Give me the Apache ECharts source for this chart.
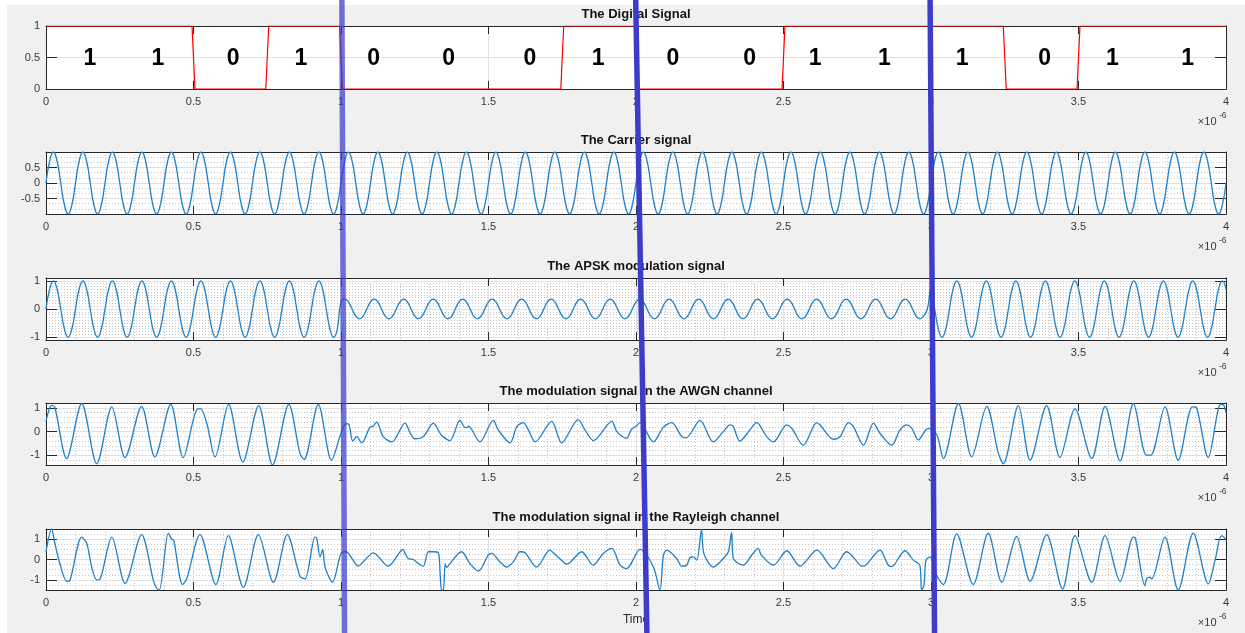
<!DOCTYPE html>
<html>
<head>
<meta charset="utf-8">
<title>APSK modulation</title>
<script src="https://cdn.jsdelivr.net/npm/echarts@6/dist/echarts.min.js"></script>
<style>
  html, body { margin: 0; padding: 0; background: #ffffff; }
  #chart {
    width: 1245px; height: 633px;
    background: linear-gradient(#f0f0f0, #f0f0f0) 7px 5px / 1238px 628px no-repeat, #ffffff;
  }
</style>
</head>
<body>
<div id="chart"></div>
<script>
// Time is expressed in microseconds; the axes carry the x10^-6 factor.

// ---------- data ----------
const bits = [1, 1, 0, 1, 0, 0, 0, 1, 0, 0, 1, 1, 1, 0, 1, 1];
const bitDuration = 0.25;
const bitLabelX = [0.149, 0.379, 0.634, 0.864, 1.111, 1.365, 1.640, 1.872,
                   2.125, 2.385, 2.607, 2.842, 3.106, 3.385, 3.615, 3.870];

// carrier and clean APSK signal, one value every sampleStep microseconds
const sampleStep = 0.0125;
const carrier = [
  0,.71,1,.71,0,-.71,-1,-.71, 0,.71,1,.71,0,-.71,-1,-.71, 0,.71,1,.71,0,-.71,-1,-.71, 0,.71,1,.71,0,-.71,-1,-.71,
  0,.71,1,.71,0,-.71,-1,-.71, 0,.71,1,.71,0,-.71,-1,-.71, 0,.71,1,.71,0,-.71,-1,-.71, 0,.71,1,.71,0,-.71,-1,-.71,
  0,.71,1,.71,0,-.71,-1,-.71, 0,.71,1,.71,0,-.71,-1,-.71, 0,.71,1,.71,0,-.71,-1,-.71, 0,.71,1,.71,0,-.71,-1,-.71,
  0,.71,1,.71,0,-.71,-1,-.71, 0,.71,1,.71,0,-.71,-1,-.71, 0,.71,1,.71,0,-.71,-1,-.71, 0,.71,1,.71,0,-.71,-1,-.71,
  0,.71,1,.71,0,-.71,-1,-.71, 0,.71,1,.71,0,-.71,-1,-.71, 0,.71,1,.71,0,-.71,-1,-.71, 0,.71,1,.71,0,-.71,-1,-.71,
  0,.71,1,.71,0,-.71,-1,-.71, 0,.71,1,.71,0,-.71,-1,-.71, 0,.71,1,.71,0,-.71,-1,-.71, 0,.71,1,.71,0,-.71,-1,-.71,
  0,.71,1,.71,0,-.71,-1,-.71, 0,.71,1,.71,0,-.71,-1,-.71, 0,.71,1,.71,0,-.71,-1,-.71, 0,.71,1,.71,0,-.71,-1,-.71,
  0,.71,1,.71,0,-.71,-1,-.71, 0,.71,1,.71,0,-.71,-1,-.71, 0,.71,1,.71,0,-.71,-1,-.71, 0,.71,1,.71,0,-.71,-1,-.71,
  0,.71,1,.71,0,-.71,-1,-.71, 0,.71,1,.71,0,-.71,-1,-.71, 0,.71,1,.71,0,-.71,-1,-.71, 0,.71,1,.71,0,-.71,-1,-.71,
  0,.71,1,.71,0,-.71,-1,-.71, 0,.71,1,.71,0,-.71,-1,-.71, 0,.71,1,.71,0,-.71,-1,-.71, 0,.71,1,.71,0,-.71,-1,-.71,
  0
];
const apsk = [
  // symbol 1 (0 - 1 us): full amplitude
  0,.71,1,.71,0,-.71,-1,-.71, 0,.71,1,.71,0,-.71,-1,-.71,
  0,.71,1,.71,0,-.71,-1,-.71, 0,.71,1,.71,0,-.71,-1,-.71,
  0,.71,1,.71,0,-.71,-1,-.71, 0,.71,1,.71,0,-.71,-1,-.71,
  0,.71,1,.71,0,-.71,-1,-.71, 0,.71,1,.71,0,-.71,-1,-.71,
  0,.71,1,.71,0,-.71,-1,-.71, 0,.71,1,.71,0,-.71,-1,-.71,
  // symbols 2 and 3 (1 - 3 us): inner ring
  .25,.35,.25,0,-.25,-.35,-.25,0, .25,.35,.25,0,-.25,-.35,-.25,0,
  .25,.35,.25,0,-.25,-.35,-.25,0, .25,.35,.25,0,-.25,-.35,-.25,0,
  .25,.35,.25,0,-.25,-.35,-.25,0, .25,.35,.25,0,-.25,-.35,-.25,0,
  .25,.35,.25,0,-.25,-.35,-.25,0, .25,.35,.25,0,-.25,-.35,-.25,0,
  .25,.35,.25,0,-.25,-.35,-.25,0, .25,.35,.25,0,-.25,-.35,-.25,0,
  .25,.35,.25,0,-.25,-.35,-.25,0, .25,.35,.25,0,-.25,-.35,-.25,0,
  .25,.35,.25,0,-.25,-.35,-.25,0, .25,.35,.25,0,-.25,-.35,-.25,0,
  .25,.35,.25,0,-.25,-.35,-.25,0, .25,.35,.25,0,-.25,-.35,-.25,0,
  .25,.35,.25,0,-.25,-.35,-.25,0, .25,.35,.25,0,-.25,-.35,-.25,0,
  .25,.35,.25,0,-.25,-.35,-.25,0, .25,.35,.25,0,-.25,-.35,-.25,0,
  // symbol 4 (3 - 4 us): outer ring, shifted phase
  .71,0,-.71,-1,-.71,0,.71,1, .71,0,-.71,-1,-.71,0,.71,1,
  .71,0,-.71,-1,-.71,0,.71,1, .71,0,-.71,-1,-.71,0,.71,1,
  .71,0,-.71,-1,-.71,0,.71,1, .71,0,-.71,-1,-.71,0,.71,1,
  .71,0,-.71,-1,-.71,0,.71,1, .71,0,-.71,-1,-.71,0,.71,1,
  .71,0,-.71,-1,-.71,0,.71,1, .71,0,-.71,-1,-.71,0,.71,1,
  .71
];

// received signals: [time, amplitude]
const awgn = [
  [0,0.43],[0.012,0.98],[0.02,1.1],[0.03,1.02],[0.07,-1.13],[0.121,1.18],[0.172,-1.35],[0.223,1.04],
  [0.268,-1.09],[0.324,1.06],[0.369,-1.06],[0.423,1.14],[0.465,-1.09],[0.513,0.95],[0.524,0.96],[0.545,0.35],
  [0.573,-1.06],[0.619,1.14],[0.667,-1.28],[0.721,1.09],[0.768,-1.4],[0.823,1.14],[0.861,-0.92],[0.875,-1.17],
  [0.923,1.14],[0.968,-1.2],
  [1.0,-0.07],[1.017,0.33],[1.027,0.3],[1.04,-0.4],[1.053,-0.21],[1.07,-0.47],[1.098,0.19],[1.108,0.22],
  [1.121,0.4],[1.143,-0.21],[1.172,-0.43],[1.217,0.36],[1.236,-0.1],[1.25,-0.3],[1.279,-0.21],[1.313,0.36],
  [1.34,-0.14],[1.369,-0.38],[1.403,0.47],[1.418,0.2],[1.427,0.17],[1.432,0.23],[1.471,-0.43],[1.516,0.47],
  [1.533,0.07],[1.573,-0.47],[1.596,0.21],[1.618,0.38],[1.635,0.07],[1.658,-0.43],[1.714,0.43],[1.748,-0.47],
  [1.804,0.5],[1.827,0.07],[1.856,-0.38],[1.918,0.43],[1.935,0],[1.968,-0.28],[1.985,0.1],[2.002,0.24],
  [2.013,0.38],[2.059,-0.43],[2.093,0.19],[2.121,0.38],[2.155,-0.21],[2.17,-0.26],[2.217,0.47],[2.262,-0.43],
  [2.296,0],[2.319,0.28],[2.33,0.21],[2.352,-0.4],[2.386,0.07],[2.409,0.38],[2.443,-0.21],[2.466,-0.43],
  [2.511,0.28],[2.528,0.14],[2.567,-0.57],[2.613,0.38],[2.624,0.28],[2.669,-0.32],[2.692,-0.21],[2.72,0.38],
  [2.737,0.21],[2.771,-0.57],[2.805,0.36],[2.827,-0.07],[2.867,-0.57],[2.895,0.07],[2.918,0.28],[2.935,0.14],
  [2.957,-0.35],[2.982,0.07],[2.992,0.14],
  [3.02,-0.14],[3.042,-1.13],[3.093,1.18],[3.138,-1.06],[3.189,1.06],[3.228,-0.89],[3.245,-1.35],[3.296,1.09],
  [3.336,-1.2],[3.392,1.09],[3.437,-1.09],[3.488,0.95],[3.545,-1.13],[3.59,1.06],[3.641,-1.23],[3.686,1.18],
  [3.73,-0.99],[3.745,-0.99],[3.793,1.04],[3.838,-1.2],[3.886,1.04],[3.9,1.0],[3.94,-1.09],[3.982,1.14],
  [3.993,1.1],[4.0,0.78]
];
const rayleigh = [
  [0,0.38],[0.019,1.5],[0.03,0.8],[0.047,-0.2],[0.07,-1.07],[0.081,-1.03],[0.121,1.1],[0.138,0.8],
  [0.155,-0.37],[0.172,-1.0],[0.183,-0.97],[0.223,1.1],[0.268,-1.17],[0.324,1.22],[0.364,-1.03],[0.375,-1.4],
  [0.384,-1.5],[0.415,1.3],[0.426,1.0],[0.433,0.95],[0.463,-1.23],[0.477,-0.95],[0.522,1.22],[0.576,-1.23],
  [0.618,1.17],[0.669,-1.37],[0.72,1.22],[0.771,-1.12],[0.818,1.22],[0.861,-0.83],[0.878,-0.95],[0.912,1.1],
  [0.918,1.03],[0.929,0.13],[0.938,0.5],[0.946,-0.37],[0.971,-1.12],
  [1.0,0.3],[1.017,0.38],[1.059,-0.33],[1.076,-0.1],[1.11,0.33],[1.16,-0.33],[1.211,0.5],[1.217,0.3],
  [1.228,0.05],[1.245,0],[1.262,-0.2],[1.279,-0.33],[1.296,0.38],[1.313,0.38],[1.33,0.33],[1.336,-0.7],
  [1.341,-1.5],[1.347,-1.5],[1.353,-0.2],[1.358,-0.4],[1.364,-0.3],[1.409,0.38],[1.437,-0.2],[1.466,-0.57],
  [1.499,0.21],[1.511,0.3],[1.539,-0.12],[1.562,-0.37],[1.584,-0.12],[1.607,0.38],[1.624,0.33],[1.663,-0.37],
  [1.708,0.46],[1.72,0.33],[1.754,-0.12],[1.765,-0.23],[1.816,0.38],[1.855,-0.28],[1.889,0.3],[1.918,0.55],
  [1.946,-0.28],[1.968,-0.45],[2.014,0.5],[2.059,-0.37],[2.081,-1.5],[2.093,0.21],[2.104,0.46],[2.138,0.05],
  [2.155,-0.33],[2.172,-0.28],[2.183,0.1],[2.194,0.13],[2.206,-0.03],[2.222,1.47],[2.23,0.3],[2.262,-0.37],
  [2.296,0.05],[2.313,0.38],[2.324,1.33],[2.33,0.05],[2.364,-0.28],[2.392,0.21],[2.414,0.55],[2.425,0.21],
  [2.466,-0.28],[2.511,0.43],[2.556,-0.33],[2.613,0.46],[2.669,-0.45],[2.714,0.38],[2.76,-0.28],[2.771,-0.33],
  [2.81,0.26],[2.827,0.46],[2.833,0.4],[2.855,-0.28],[2.866,-0.35],[2.912,0.43],[2.94,-0.03],[2.962,-0.28],
  [2.968,-1.5],[2.976,-1.28],[2.983,-0.03],[2.997,0.13],
  [3.019,-0.78],[3.042,-1.23],[3.087,1.26],[3.143,-1.23],[3.194,1.3],[3.24,-1.12],[3.29,1.13],[3.336,-1.07],
  [3.392,1.22],[3.446,-1.45],[3.488,1.17],[3.545,-1.12],[3.59,1.17],[3.641,-1.07],[3.686,1.1],[3.692,1.08],
  [3.725,-1.28],[3.731,-0.95],[3.742,-0.87],[3.748,-0.95],[3.793,1.1],[3.838,-1.5],[3.889,1.3],[3.94,-1.2],
  [3.963,-0.03],[3.985,1.17],[4.0,1.0]
];

// symbol boundaries marked by hand-drawn strokes: [time at top, time at bottom]
const boundaryStrokes = [[1.003, 1.012], [1.999, 2.037], [2.997, 3.012]];

// axes
const plotTitles = [
  'The Digital Signal',
  'The Carrier signal',
  'The APSK modulation signal',
  'The modulation signal in the AWGN channel',
  'The modulation signal in the Rayleigh channel'
];
const xRange = [0, 4];
const xTickStep = 0.5;
const xAxisName = 'Time';
const xExponent = ['\u00d710', '-6'];
const yRanges = [[0, 1], [-1, 1], [-1.1, 1.1], [-1.4, 1.2], [-1.5, 1.5]];
const yTickValues = [[0, 0.5, 1], [-0.5, 0, 0.5], [-1, 0, 1], [-1, 0, 1], [-1, 0, 1]];

// ---------- layout and style ----------
const FONT = '"Liberation Sans", Arial, Helvetica, sans-serif';
const AXIS_COLOR = '#262626';
const LABEL_COLOR = '#383838';
const MAJOR_GRID = '#e1e1e1';
const MINOR_GRID = '#c6c6c6';
const PLOT_LEFT = 46, PLOT_RIGHT = 19;
const PLOT_TOP = [26, 152, 278, 403, 529];
const PLOT_H = [63, 62, 62, 62, 61];
const Y_MAJOR_STEP = [0.5, 0.5, null, null, null];
const Y_MINOR_STEP = [null, 1 / 6, 0.1, 0.2, 0.25];
const X_MINOR_STEP = 0.1;
const SIGNAL_BLUE = '#1f80c8';
const STROKE_COLORS = ['rgba(58,58,205,0.72)', '#3c3cc9', '#3d3dca'];
const STROKE_WIDTH = 5.5;

const grids = [], xAxes = [], yAxes = [], series = [], graphics = [];
const mainX = [], mainY = [];

const boxLine = { show: true, onZero: false, lineStyle: { color: AXIS_COLOR, width: 1 } };
const hidden = { show: false };

for (let i = 0; i < 5; i++) {
  grids.push({ left: PLOT_LEFT, right: PLOT_RIGHT, top: PLOT_TOP[i], height: PLOT_H[i],
               show: true, backgroundColor: '#ffffff', borderWidth: 0 });
  const [ymin, ymax] = yRanges[i];
  const ticks = yTickValues[i];

  // bottom x axis: labels, ticks, major grid
  mainX.push(xAxes.length);
  xAxes.push({
    gridIndex: i, type: 'value', min: xRange[0], max: xRange[1], interval: xTickStep,
    position: 'bottom', z: 3,
    axisLine: boxLine,
    axisTick: { show: true, inside: true, length: 8, lineStyle: { color: AXIS_COLOR, width: 1 } },
    axisLabel: { show: true, margin: 7, color: LABEL_COLOR, fontSize: 11, fontFamily: FONT },
    splitLine: { show: true, lineStyle: { color: MAJOR_GRID, width: 1 } },
    name: i === 4 ? xAxisName : '', nameLocation: 'middle', nameGap: 24,
    nameTextStyle: { color: '#262626', fontSize: 12, fontFamily: FONT }
  });
  // top x axis: ticks only
  xAxes.push({
    gridIndex: i, type: 'value', min: xRange[0], max: xRange[1], interval: xTickStep,
    position: 'top', z: 3,
    axisLine: boxLine,
    axisTick: { show: true, inside: true, length: 8, lineStyle: { color: AXIS_COLOR, width: 1 } },
    axisLabel: hidden, splitLine: hidden
  });
  // minor vertical grid
  if (Y_MINOR_STEP[i]) {
    xAxes.push({
      gridIndex: i, type: 'value', min: xRange[0], max: xRange[1], interval: X_MINOR_STEP,
      position: 'top', z: 1,
      axisLine: hidden, axisTick: hidden, axisLabel: hidden,
      splitLine: { show: true, lineStyle: { color: MINOR_GRID, width: 1, type: [1, 2] } }
    });
  }

  // left y axis: labels, ticks, major grid
  const leftY = {
    gridIndex: i, type: 'value', min: ymin, max: ymax, position: 'left', z: 3,
    axisLine: boxLine,
    axisTick: { show: true, inside: true, length: 11, customValues: ticks,
                lineStyle: { color: AXIS_COLOR, width: 1 } },
    axisLabel: { show: true, margin: 6, color: LABEL_COLOR, fontSize: 11, fontFamily: FONT,
                 customValues: ticks },
    splitLine: { show: true, lineStyle: { color: MAJOR_GRID, width: 1 } }
  };
  if (Y_MAJOR_STEP[i]) leftY.interval = Y_MAJOR_STEP[i]; else leftY.splitNumber = 3;
  mainY.push(yAxes.length);
  yAxes.push(leftY);
  // right y axis: ticks only
  const rightY = {
    gridIndex: i, type: 'value', min: ymin, max: ymax, position: 'right', z: 3,
    axisLine: boxLine,
    axisTick: { show: true, inside: true, length: 11, customValues: ticks,
                lineStyle: { color: AXIS_COLOR, width: 1 } },
    axisLabel: hidden, splitLine: hidden
  };
  if (Y_MAJOR_STEP[i]) rightY.interval = Y_MAJOR_STEP[i]; else rightY.splitNumber = 3;
  yAxes.push(rightY);
  // minor horizontal grid
  if (Y_MINOR_STEP[i]) {
    yAxes.push({
      gridIndex: i, type: 'value', min: ymin, max: ymax, interval: Y_MINOR_STEP[i],
      position: 'right', z: 1,
      axisLine: hidden, axisTick: hidden, axisLabel: hidden,
      splitLine: { show: true, lineStyle: { color: MINOR_GRID, width: 1, type: [1, 2] } }
    });
  }

  // x10^-6 exponent under the right end of every x axis
  const base = PLOT_TOP[i] + PLOT_H[i];
  const axisRightX = 1245 - PLOT_RIGHT;
  graphics.push({
    type: 'text', x: axisRightX - 9.5, y: base + 33, silent: true,
    style: { text: xExponent[0], fill: LABEL_COLOR, font: '11px ' + FONT, align: 'right', verticalAlign: 'middle' }
  });
  graphics.push({
    type: 'text', x: axisRightX + 0.5, y: base + 27, silent: true,
    style: { text: xExponent[1], fill: LABEL_COLOR, font: '8.5px ' + FONT, align: 'right', verticalAlign: 'middle' }
  });
}

// overlay grid spanning the whole figure height for the boundary strokes
grids.push({ left: PLOT_LEFT, right: PLOT_RIGHT, top: 0, bottom: 0, show: false });
const overlayX = xAxes.length;
xAxes.push({ gridIndex: 5, type: 'value', min: xRange[0], max: xRange[1], show: false });
const overlayY = yAxes.length;
yAxes.push({ gridIndex: 5, type: 'value', min: 0, max: 1, show: false });

// ---------- series ----------
const digitalPoints = [];
bits.forEach((b, k) => {
  const t0 = k * bitDuration, t1 = (k + 1) * bitDuration;
  digitalPoints.push([k === 0 ? t0 : t0 + 0.005, b]);
  digitalPoints.push([k === bits.length - 1 ? t1 : t1 - 0.005, b]);
});
const sampled = vals => vals.map((v, k) => [k * sampleStep, v]);

series.push({
  type: 'line', xAxisIndex: mainX[0], yAxisIndex: mainY[0], data: digitalPoints,
  symbol: 'none', lineStyle: { color: '#ff0000', width: 1.2 }, z: 5, silent: true
});
series.push({
  type: 'scatter', xAxisIndex: mainX[0], yAxisIndex: mainY[0],
  data: bitLabelX.map((x, k) => [x, 0.5, bits[k]]),
  symbolSize: 1, itemStyle: { color: 'rgba(0,0,0,0)', opacity: 1 }, z: 6, silent: true,
  label: { show: true, position: 'inside', offset: [0, 1.5], formatter: p => String(p.data[2]),
           fontSize: 23, fontWeight: 'bold', color: '#000000', opacity: 1, fontFamily: FONT,
           textBorderWidth: 0, textBorderColor: 'transparent' }
});
const signalLine = (idx, data, smooth) => ({
  type: 'line', xAxisIndex: mainX[idx], yAxisIndex: mainY[idx], data: data,
  symbol: 'none', smooth: smooth, lineStyle: { color: SIGNAL_BLUE, width: 1.3 }, z: 5, silent: true
});
series.push(signalLine(1, sampled(carrier), 0.5));
series.push(signalLine(2, sampled(apsk), 0.5));
series.push(signalLine(3, awgn, 0.3));
series.push(signalLine(4, rayleigh, 0.3));

boundaryStrokes.forEach((s, k) => {
  series.push({
    type: 'line', xAxisIndex: overlayX, yAxisIndex: overlayY,
    data: [[s[0], 1], [s[1], 0]], symbol: 'none', z: 20, silent: true,
    lineStyle: { color: STROKE_COLORS[k], width: STROKE_WIDTH }
  });
});

const option = {
  animation: false,
  title: plotTitles.map((t, i) => ({
    text: t, left: (PLOT_LEFT + 1245 - PLOT_RIGHT) / 2, textAlign: 'center',
    top: PLOT_TOP[i] - 18, padding: 0,
    textStyle: { fontSize: 13, fontWeight: 'bold', color: '#141414', fontFamily: FONT }
  })),
  grid: grids,
  xAxis: xAxes,
  yAxis: yAxes,
  series: series,
  graphic: graphics
};

const chart = echarts.init(document.getElementById('chart'), null, { renderer: 'canvas' });
chart.setOption(option);
</script>
</body>
</html>
